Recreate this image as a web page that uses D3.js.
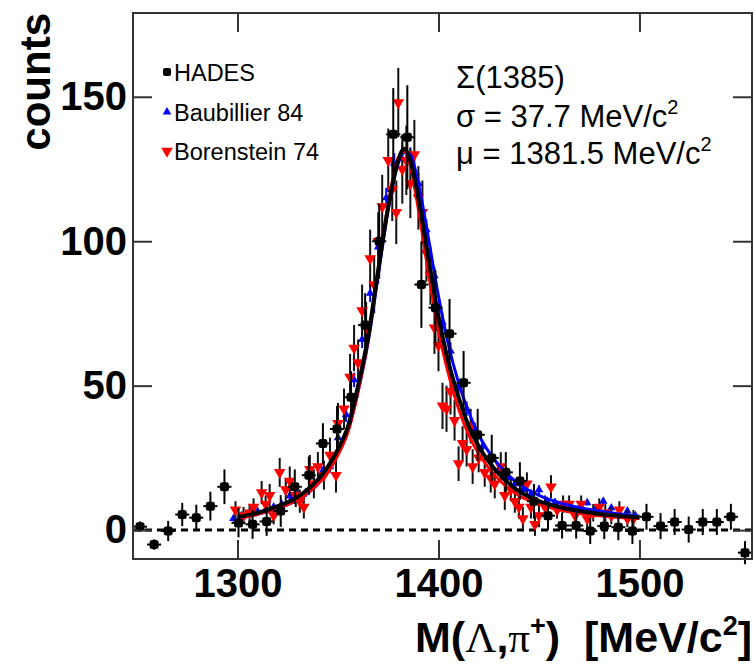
<!DOCTYPE html>
<html>
<head>
<meta charset="utf-8">
<script src="https://cdn.jsdelivr.net/npm/d3@7"></script>
<style>
  body { margin: 0; background: #fff; }
  text { font-family: "Liberation Sans", Arial, sans-serif; }
</style>
</head>
<body>
<div id="chart"></div>
<script>
// HADES data, 7 MeV bins
var hadesX = [1251.5,1258.5,1265.5,1272.5,1279.5,1286.5,1293.5,1300.5,1307.5,1314.5,1321.5,1328.5,1335.5,1342.5,1349.5,1356.5,1363.5,1370.5,1377.5,1384.5,1391.5,1398.5,1405.5,1412.5,1419.5,1426.5,1433.5,1440.5,1447.5,1454.5,1461.5,1468.5,1475.5,1482.5,1489.5,1496.5,1503.5,1510.5,1517.5,1524.5,1531.5,1538.5,1545.5,1552.5];
var hadesY = [1.2,-5,-0.3,5.4,4.3,8.3,15,2.5,2,3,6.6,15,19,30,35,46,71,100,137,136,85,77,68,51,33,25,20,17,10,5,1.6,1.6,-0.3,1.4,1,-0.3,4.6,1.4,2.8,0.2,2.8,2.8,4.6,-7.8];
var hadesErr = [1.8,1.8,3.5,4,4.5,5,6,5,5,5,5.5,6,6.5,7,8,9,11,13,16,18,15,13,12,11,9,8,7,6.5,6,5,4.5,4.5,4.5,4.5,4.5,4.5,4.5,4.5,4.5,4.5,4.5,4.5,4.5,4];

// Baubillier 84
var baubX = [1298,1302,1306,1310,1314,1318,1322,1326,1330,1334,1338,1342,1346,1350,1354,1358,1362,1366,1370,1374,1378,1382,1386,1390,1394,1398,1402,1406,1410,1414,1418,1422,1426,1430,1434,1438,1442,1446,1450,1454,1458,1462,1466,1470,1474,1478,1482,1486,1490,1494,1498];
var baubY = [4,5,6,6.5,7,8,9,11.8,12,13,16,20,22,32,40,52,66,82,98,115,127,131,129,120,104,88,72,62,50,42,35,29,25,21,18,16,14,12.5,14,10,9.5,8.5,8,7.5,9.5,7,10,7.7,6,6.6,5];
var baubErr = [1,1,1,1,1,1,1,1.5,1.5,1.5,1.5,2,2,2,2.5,2.5,3,3,3,3.5,3.5,3.5,3.5,3.5,3.5,3,3,3,2.5,2.5,2,2,2,2,1.5,1.5,1.5,1.5,1.5,1.5,1.5,1,1,1,1,1,1,1,1,1,1];

// Borenstein 74
var borX = [1299,1303,1306,1308,1312,1314,1316,1318,1321,1324,1326,1329,1331,1333,1336,1338,1340,1343,1346,1349,1350,1353,1356,1358,1360,1362,1364,1366,1368,1370,1372,1375,1377,1379,1380,1382,1384,1386,1388,1390,1392,1394,1396,1398,1400,1402,1404,1406,1408,1410,1412,1414,1416,1417,1420,1423,1426,1428,1431,1433,1436,1438,1440,1442,1444,1446,1448,1450,1453,1456,1459,1462,1465,1468,1471,1474,1477,1480,1483,1486,1490,1494,1497];
var borY = [7,5,6,8,13,9,12,5,20,14,17,12,10,8,21,16,22,19,26,19,37,42,53,63,58,76,70,94,85,100,112,128,118,110,148,125,128,120,130,115,110,96,88,70,64,43,42,48,38,23,30,28,36,22,25,20,18,16,22,12,14,10,8,4,16,8,2,5,8,15,7,9,9,5,9,4,6,8,6,5,7,4,4];
var borErr = [3,3,3,3,4,3,4,3,5,4,5,4,4,4,5,5,5,5,6,6,7,7,8,8,8,9,9,10,10,10,11,11,11,11,12,12,12,12,12,11,11,10,10,9,9,8,8,8,7,6,6,6,6,6,5,5,5,5,5,5,4,4,4,4,4,4,4,4,4,4,3,3,3,3,3,3,3,3,3,3,3,3,3];

// fitted curves
var fitX = [1300,1310,1320,1330,1340,1345,1350,1355,1360,1365,1370,1375,1380,1383,1386,1390,1395,1400,1405,1410,1415,1420,1430,1440,1450,1460,1470,1480,1490,1500];
var fitHades = [4.5,6,8.3,11.5,17.5,22,28,36,50,67,90,112,128,132,128,115,94,74,58,46,36,29,19.5,13.5,10,8,6.6,5.6,5,4.4];
var fitBaub = [4,5.5,7.5,10.5,16,20.5,26.5,34.5,48,65,88,111,127,131,130,120,101,81,64,51,41,33,22.5,16,12,9.5,7.8,6.6,5.6,4.8];
var fitBor = [4,5.5,7.5,10.5,16,20,26,34,48,66,90,113,129,131,126,111,89,69,54,42,33,26.5,17.5,12,9,7,5.8,5,4.4,4];

var xTicks = [1300, 1400, 1500];
var yTicks = [0, 50, 100, 150];
var legendNames = ["HADES", "Baubillier 84", "Borenstein 74"];

var W = 755, H = 664;
var pl = 133, pr = 752, pt = 13, pb = 559;

var svg = d3.select("#chart").append("svg")
    .attr("width", W)
    .attr("height", H);

var x = d3.scaleLinear().domain([1248, 1556]).range([pl, pr]);
var y = d3.scaleLinear().domain([-10, 179]).range([pb, pt]);

// dashed zero line
svg.append("line")
    .attr("x1", pl).attr("x2", pr)
    .attr("y1", y(0)).attr("y2", y(0))
    .attr("stroke", "#000")
    .attr("stroke-width", 3)
    .attr("stroke-dasharray", "7,5");

function errbars(g, xs, ys, es, color, halfw) {
  xs.forEach(function(d, i) {
    g.append("line")
      .attr("x1", x(d)).attr("x2", x(d))
      .attr("y1", y(ys[i] - es[i])).attr("y2", y(ys[i] + es[i]))
      .attr("stroke", color).attr("stroke-width", 2);
    if (halfw) {
      g.append("line")
        .attr("x1", x(d - halfw)).attr("x2", x(d + halfw))
        .attr("y1", y(ys[i])).attr("y2", y(ys[i]))
        .attr("stroke", color).attr("stroke-width", 2);
    }
  });
}

var triUp = d3.symbol().type(d3.symbolTriangle).size(32);
var triDn = d3.symbol().type(d3.symbolTriangle).size(58);

// Baubillier points
var gB = svg.append("g");
errbars(gB, baubX, baubY, baubErr, "#0000ff", 0);
gB.selectAll("path").data(baubX).enter().append("path")
    .attr("d", triUp)
    .attr("transform", function(d, i) { return "translate(" + x(d) + "," + y(baubY[i]) + ")"; })
    .attr("fill", "#0000ff");

// Borenstein points
var gR = svg.append("g");
errbars(gR, borX, borY, borErr, "#111", 0);
gR.selectAll("path").data(borX).enter().append("path")
    .attr("d", triDn)
    .attr("transform", function(d, i) { return "translate(" + x(d) + "," + y(borY[i]) + ") rotate(180)"; })
    .attr("fill", "#ff0000");

// fit curves
function curve(vals, color, w) {
  var line = d3.line()
      .x(function(d, i) { return x(fitX[i]); })
      .y(function(d) { return y(d); })
      .curve(d3.curveMonotoneX);
  svg.append("path")
      .attr("d", line(vals))
      .attr("fill", "none")
      .attr("stroke", color)
      .attr("stroke-width", w);
}
curve(fitBaub, "#0000ff", 3);
curve(fitBor, "#ff0000", 3);
curve(fitHades, "#000", 4);

// HADES points
var gH = svg.append("g");
errbars(gH, hadesX, hadesY, hadesErr, "#000", 3.5);
gH.selectAll("rect").data(hadesX).enter().append("rect")
    .attr("x", function(d) { return x(d) - 4.5; })
    .attr("y", function(d, i) { return y(hadesY[i]) - 4.5; })
    .attr("width", 9).attr("height", 9)
    .attr("rx", 2.5)
    .attr("fill", "#000");

// frame and ticks
svg.append("rect")
    .attr("x", pl).attr("y", pt)
    .attr("width", pr - pl).attr("height", pb - pt)
    .attr("fill", "none")
    .attr("stroke", "#333")
    .attr("stroke-width", 2);

var fmt = d3.format("d");
svg.append("g")
    .attr("transform", "translate(0," + pb + ")")
    .call(d3.axisBottom(x).tickValues(xTicks).tickFormat(fmt).tickSizeInner(-19).tickSizeOuter(0).tickPadding(10));
svg.append("g")
    .attr("transform", "translate(" + pl + ",0)")
    .call(d3.axisLeft(y).tickValues(yTicks).tickFormat(fmt).tickSizeInner(-19).tickSizeOuter(0).tickPadding(6));
svg.append("g")
    .attr("transform", "translate(0," + pt + ")")
    .call(d3.axisTop(x).tickValues(xTicks).tickSizeInner(-19).tickSizeOuter(0).tickFormat(""));
svg.append("g")
    .attr("transform", "translate(" + pr + ",0)")
    .call(d3.axisRight(y).tickValues(yTicks).tickSizeInner(-19).tickSizeOuter(0).tickFormat(""));

svg.selectAll(".domain").remove();
svg.selectAll(".tick line").attr("stroke", "#333").attr("stroke-width", 2);
svg.selectAll(".tick text")
    .attr("font-family", "Liberation Sans, Arial, sans-serif")
    .attr("font-weight", "bold")
    .attr("font-size", 40)
    .attr("fill", "#000");

// axis titles
svg.append("text")
    .attr("transform", "translate(50," + pt + ") rotate(-90)")
    .attr("text-anchor", "end")
    .attr("font-weight", "bold")
    .attr("font-size", 42)
    .text("counts");

var xl = svg.append("text")
    .attr("x", pr)
    .attr("y", 652)
    .attr("text-anchor", "end")
    .attr("font-weight", "bold")
    .attr("font-size", 43);
xl.append("tspan").text("M(");
xl.append("tspan").attr("font-family", "Liberation Serif, serif").attr("font-weight", "normal").text("Λ");
xl.append("tspan").text(",");
xl.append("tspan").attr("font-family", "Liberation Serif, serif").attr("font-weight", "normal").text("π");
xl.append("tspan").attr("font-size", 27).attr("dy", -17).text("+");
xl.append("tspan").attr("dy", 17).text(")\u00a0\u00a0[MeV/c");
xl.append("tspan").attr("font-size", 27).attr("dy", -17).text("2");
xl.append("tspan").attr("dy", 17).text("]");

// legend
var legY = [72, 112, 151];
var leg = svg.append("g");
leg.append("rect").attr("x", 163).attr("y", legY[0] - 4).attr("width", 8).attr("height", 8).attr("rx", 2).attr("fill", "#000");
leg.append("path").attr("d", triUp).attr("transform", "translate(167," + legY[1] + ")").attr("fill", "#0000ff");
leg.append("path").attr("d", triDn).attr("transform", "translate(167," + legY[2] + ") rotate(180)").attr("fill", "#ff0000");
legendNames.forEach(function(n, i) {
  leg.append("text")
      .attr("x", 174)
      .attr("y", legY[i] + 9)
      .attr("font-size", 23.5)
      .text(n);
});

// fit info
var info = svg.append("g").attr("font-size", 31);
info.append("text").attr("x", 456).attr("y", 88).text("Σ(1385)");
var t2 = info.append("text").attr("x", 456).attr("y", 127);
t2.append("tspan").text("σ = 37.7 MeV/c");
t2.append("tspan").attr("font-size", 20).attr("dy", -13).text("2");
var t3 = info.append("text").attr("x", 456).attr("y", 164);
t3.append("tspan").text("μ = 1381.5 MeV/c");
t3.append("tspan").attr("font-size", 20).attr("dy", -13).text("2");
</script>
</body>
</html>
